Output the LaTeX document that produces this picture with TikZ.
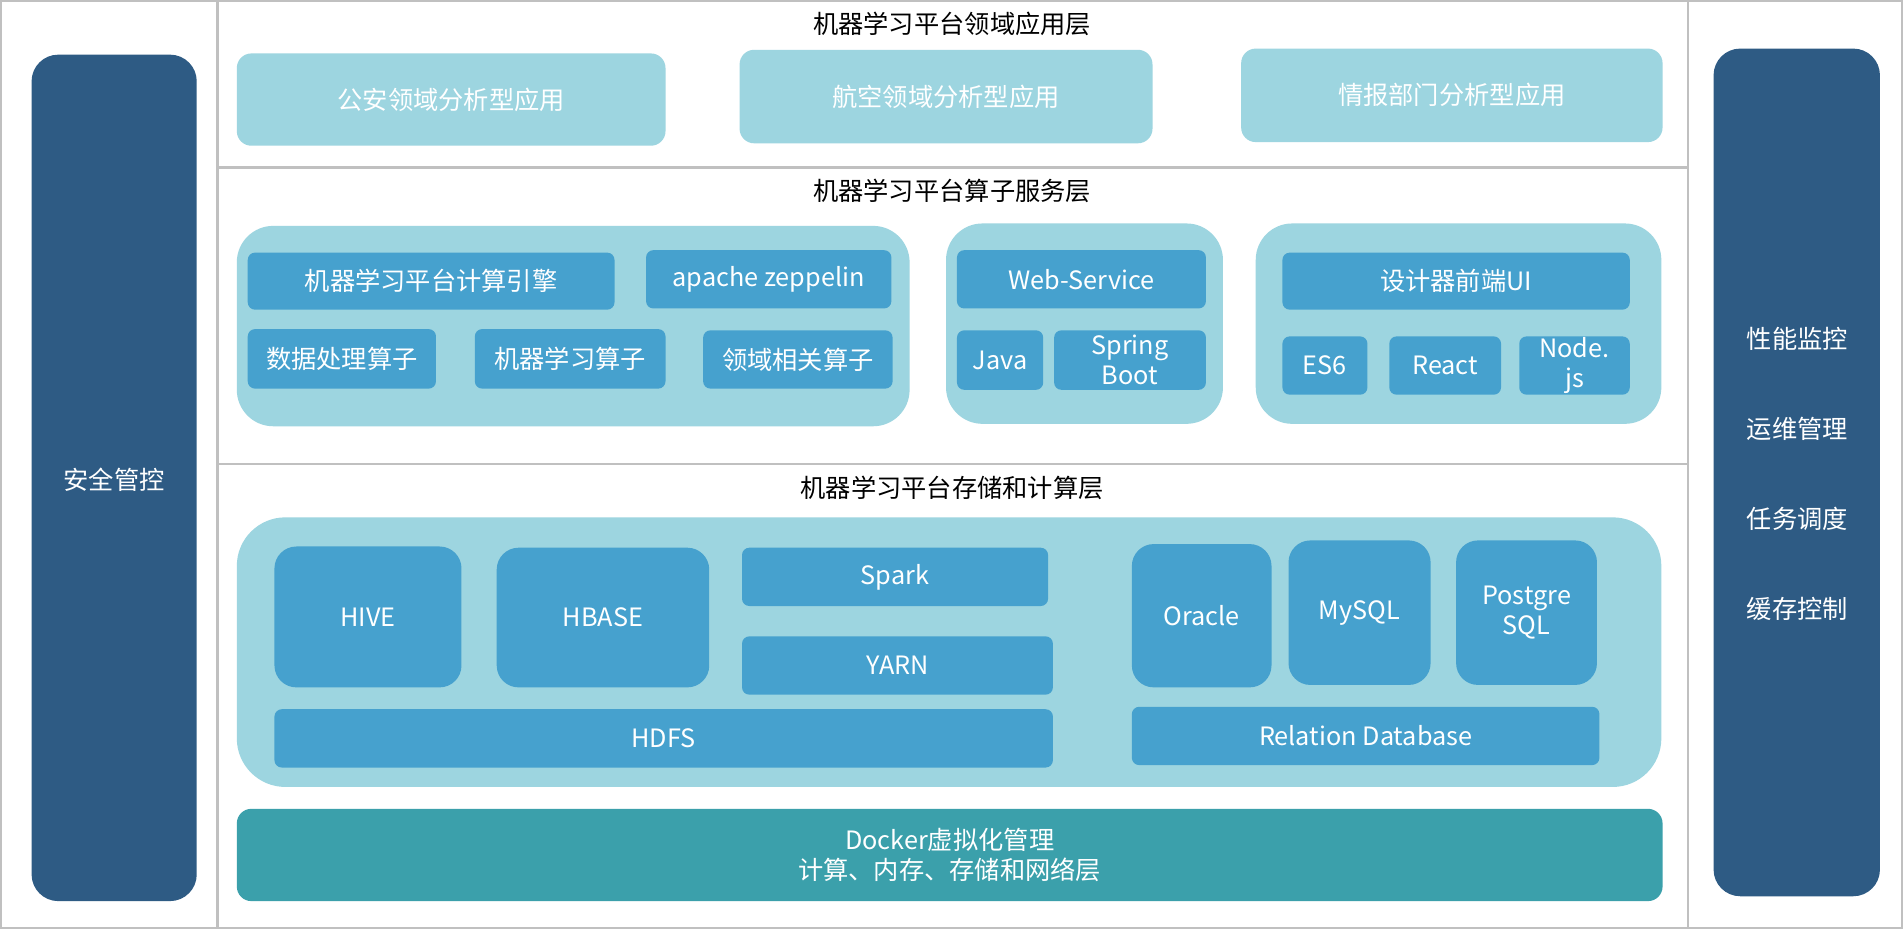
\documentclass[tikz,border=0pt]{standalone}
\usepackage{fontspec}
\setmainfont{Noto Sans CJK SC}
\definecolor{darkbar}{HTML}{2E5B84}
\definecolor{lightbox}{HTML}{9DD5E0}
\definecolor{itembox}{HTML}{46A1CE}
\definecolor{tealbox}{HTML}{3BA0AB}
\definecolor{frame}{HTML}{C0C0C0}
\tikzset{
  base/.style={inner sep=0pt, outer sep=0pt, align=center, font=\fontsize{10.4}{12.5}\selectfont},
  sidebar/.style={base, fill=darkbar, rounded corners=11pt, text=white},
  appbox/.style={base, fill=lightbox, rounded corners=6pt, text=white},
  grp/.style={base, fill=lightbox, rounded corners=15pt},
  biggrp/.style={base, fill=lightbox, rounded corners=20pt},
  item/.style={base, fill=itembox, rounded corners=3pt, text=white},
  tallitem/.style={base, fill=itembox, rounded corners=9pt, text=white},
  dockbox/.style={base, fill=tealbox, rounded corners=6pt, text=white},
  layertitle/.style={base, text=black},
  sidetext/.style={base, text=white},
  frameline/.style={draw=frame, line width=1pt}
}
\newcommand\bx[7]{\node[#6, minimum width={(#4-#2)*0.5pt}, minimum height={(#5-#3)*0.5pt}] (#1) at ({(#2+#4)/2},{(#3+#5)/2}) {#7};}
\begin{document}
\begin{tikzpicture}[x=0.5pt,y=-0.5pt]
\useasboundingbox (0,0) rectangle (1567,765);
\fill[white] (0,0) rectangle (1567,765);
% frame
\coordinate (fa) at (1,1);
\coordinate (fb) at (1566,764);
\draw[frameline] (fa) rectangle (fb);
\coordinate (v1t) at (179,1); \coordinate (v1b) at (179,764);
\coordinate (v2t) at (1390,1); \coordinate (v2b) at (1390,764);
\draw[frameline] (v1t) -- (v1b);
\draw[frameline] (v2t) -- (v2b);
\coordinate (h1l) at (179,138); \coordinate (h1r) at (1390,138);
\coordinate (h2l) at (179,382); \coordinate (h2r) at (1390,382);
\draw[frameline] (h1l) -- (h1r);
\draw[frameline] (h2l) -- (h2r);
% side bars
\bx{leftbar}{26}{45}{162}{742}{sidebar}{}
\node[sidetext] (lefttxt) at (94,395) {安全管控};
\bx{rightbar}{1411}{40}{1548}{738}{sidebar}{}
\node[sidetext] (r1) at (1480,279) {性能监控};
\node[sidetext] (r2) at (1480,353) {运维管理};
\node[sidetext] (r3) at (1480,427) {任务调度};
\node[sidetext] (r4) at (1480,501) {缓存控制};
% layer 1
\node[layertitle] (t1) at (784,20) {机器学习平台领域应用层};
\bx{app1}{195}{44}{548}{120}{appbox}{公安领域分析型应用}
\bx{app2}{609}{41}{949}{118}{appbox}{航空领域分析型应用}
\bx{app3}{1022}{40}{1369}{117}{appbox}{情报部门分析型应用}
% layer 2
\node[layertitle] (t2) at (784,157) {机器学习平台算子服务层};
\bx{g1}{195}{186}{749}{351}{grp}{}
\bx{engine}{204}{208}{506}{255}{item}{机器学习平台计算引擎}
\bx{zeppelin}{532}{206}{734}{254}{item}{apache zeppelin}
\bx{dataop}{204}{271}{359}{320}{item}{数据处理算子}
\bx{mlop}{391}{271}{548}{320}{item}{机器学习算子}
\bx{domop}{579}{272}{735}{320}{item}{领域相关算子}
\bx{g2}{779}{184}{1007}{349}{grp}{}
\bx{websvc}{788}{206}{993}{254}{item}{Web-Service}
\bx{java}{788}{272}{859}{321}{item}{Java}
\bx{spring}{868}{272}{993}{321}{item}{Spring\\Boot}
\bx{g3}{1034}{184}{1368}{349}{grp}{}
\bx{ui}{1056}{208}{1342}{255}{item}{设计器前端UI}
\bx{es6}{1056}{277}{1126}{325}{item}{ES6}
\bx{react}{1144}{277}{1236}{325}{item}{React}
\bx{nodejs}{1251}{277}{1342}{325}{item}{Node.\\js}
% layer 3
\node[layertitle] (t3) at (784,402) {机器学习平台存储和计算层};
\bx{g4}{195}{426}{1368}{648}{biggrp}{}
\bx{hive}{226}{450}{380}{566}{tallitem}{HIVE}
\bx{hbase}{409}{451}{584}{566}{tallitem}{HBASE}
\bx{spark}{611}{451}{863}{499}{item}{Spark}
\bx{yarn}{611}{524}{867}{572}{item}{YARN}
\bx{hdfs}{226}{584}{867}{632}{item}{HDFS}
\bx{oracle}{932}{448}{1047}{566}{tallitem}{Oracle}
\bx{mysql}{1061}{445}{1178}{564}{tallitem}{MySQL}
\bx{pg}{1199}{445}{1315}{564}{tallitem}{Postgre\\SQL}
\bx{reldb}{932}{582}{1317}{630}{item}{Relation Database}
% docker
\bx{docker}{195}{666}{1369}{742}{dockbox}{Docker虚拟化管理\\计算、内存、存储和网络层}
\end{tikzpicture}
\end{document}
